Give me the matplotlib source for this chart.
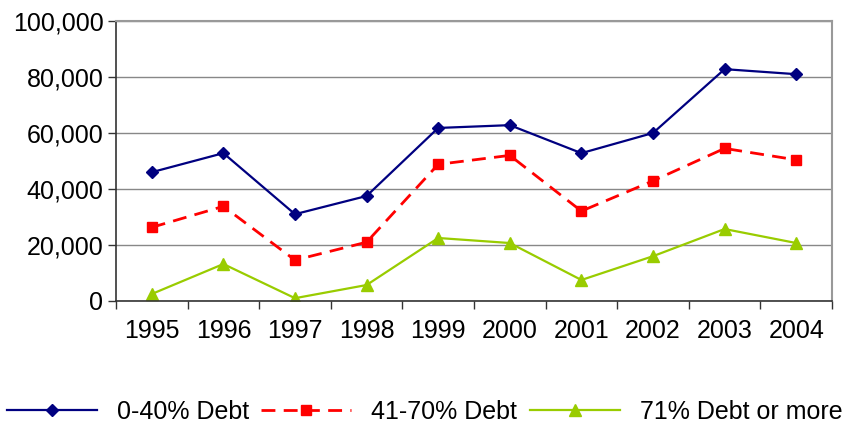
import matplotlib.pyplot as plt
from matplotlib.ticker import FuncFormatter

plt.rcParams['font.family'] = ['Liberation Sans', 'DejaVu Sans']

years = ["1995", "1996", "1997", "1998", "1999", "2000", "2001", "2002", "2003", "2004"]
low_debt = [46000, 52800, 31000, 37500, 61800, 62800, 52800, 60000, 82800, 81000]
mid_debt = [26300, 33800, 14600, 21000, 48800, 52000, 32100, 42900, 54500, 50400]
high_debt = [2500, 13200, 1000, 5700, 22500, 20700, 7500, 16000, 25700, 20700]

fig = plt.figure(figsize=(8.49, 4.25), dpi=100)
ax = fig.add_axes([0.1366, 0.2918, 0.8434, 0.6588])

x = list(range(len(years)))
ax.plot(x, low_debt, color="#000080", lw=1.6, marker="D", ms=6.5, label="0-40% Debt")
ax.plot(x, mid_debt, color="#ff0000", lw=2, ls=(0, (5, 3)), marker="s", ms=7,
        label="41-70% Debt")
ax.plot(x, high_debt, color="#99cc00", lw=1.6, marker="^", ms=8, label="71% Debt or more")

ax.set_xlim(-0.5, len(years) - 0.5)
ax.set_ylim(0, 100000)
ax.set_yticks(range(0, 100001, 20000))
ax.yaxis.set_major_formatter(FuncFormatter(lambda v, p: f"{int(v):,}"))
ax.set_xticks(x)
ax.set_xticklabels(years)
ax.set_xticks([i - 0.5 for i in range(len(years) + 1)], minor=True)
ax.tick_params(axis="x", which="major", length=0, pad=13, labelsize=18)
ax.tick_params(axis="x", which="minor", length=6, width=1, color="#333333")
ax.tick_params(axis="y", length=6, width=1, color="#333333", labelsize=18, pad=3)
ax.grid(axis="y", color="#888888", lw=1)
ax.set_axisbelow(True)

for s in ["top", "right"]:
    ax.spines[s].set_color("#999999")
    ax.spines[s].set_linewidth(1.5)
for s in ["left", "bottom"]:
    ax.spines[s].set_color("#333333")
    ax.spines[s].set_linewidth(1.2)

fig.legend(loc="lower center", bbox_to_anchor=(0.5, -0.05), ncol=3, frameon=False,
           fontsize=18, handlelength=3.6, columnspacing=0.5, handletextpad=0.8)

fig.savefig("out.png", dpi=100)
